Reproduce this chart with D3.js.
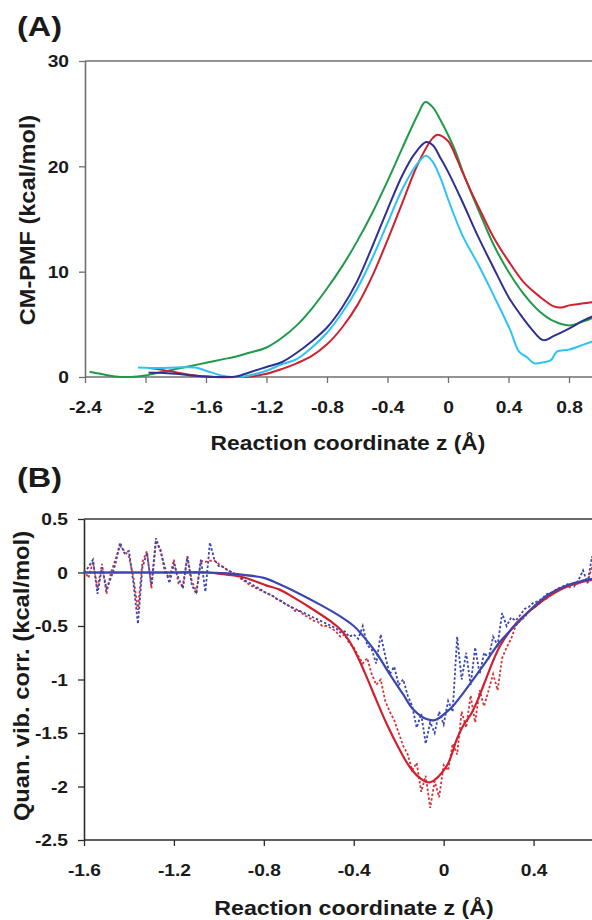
<!DOCTYPE html>
<html><head><meta charset="utf-8">
<script src="https://cdn.jsdelivr.net/npm/d3@7"></script>
<style>
body{margin:0;background:#fff;}
text{font-family:"Liberation Sans",Arial,sans-serif;font-weight:bold;fill:#1a1a1a;}
</style></head>
<body>
<script>
// ---------- Panel A data: CM-PMF (kcal/mol) vs reaction coordinate z (Å)
const zGreen = [-2.37,-2.3,-2.2,-2.1,-2.0,-1.9,-1.8,-1.7,-1.6,-1.5,-1.4,-1.3,-1.2,-1.1,-1.0,-0.9,-0.8,-0.7,-0.6,-0.5,-0.4,-0.3,-0.2,-0.15,-0.1,-0.05,0,0.05,0.1,0.15,0.2,0.3,0.4,0.5,0.6,0.7,0.8,0.9,1.0];
const pmfGreen = [0.5,0.3,0.05,0.0,0.15,0.45,0.75,1.05,1.35,1.65,1.95,2.35,2.8,3.7,4.9,6.5,8.4,10.5,12.9,15.6,18.6,21.8,24.9,26.1,25.6,24.4,23.0,21.4,19.4,17.6,15.9,12.6,10.0,7.9,6.3,5.3,4.9,5.3,5.9];
const zRed = [-1.98,-1.9,-1.8,-1.7,-1.6,-1.55,-1.4,-1.3,-1.2,-1.1,-1.0,-0.9,-0.8,-0.7,-0.6,-0.5,-0.4,-0.3,-0.2,-0.1,-0.07,0,0.05,0.1,0.15,0.2,0.3,0.4,0.5,0.6,0.7,0.75,0.8,0.9,1.0];
const pmfRed = [0.85,0.7,0.45,0.2,0.05,0.0,0.0,0.05,0.3,0.75,1.3,2.0,3.1,4.7,6.8,9.6,13.0,16.6,20.2,22.7,23.0,22.4,21.0,19.3,17.7,16.2,13.3,11.0,9.0,7.7,6.7,6.6,6.8,7.0,7.2];
const zNavy = [-1.98,-1.9,-1.8,-1.7,-1.6,-1.5,-1.4,-1.3,-1.2,-1.1,-1.0,-0.9,-0.8,-0.7,-0.6,-0.5,-0.4,-0.3,-0.22,-0.145,-0.1,-0.05,0,0.09,0.2,0.3,0.4,0.47,0.55,0.63,0.7,0.8,0.9,1.0];
const pmfNavy = [0.4,0.4,0.3,0.15,0.05,0.0,0.05,0.5,0.95,1.4,2.3,3.4,4.7,6.6,9.1,12.4,15.9,19.2,21.2,22.3,22.0,20.8,19.5,16.8,13.3,10.4,7.6,6.1,4.6,3.5,3.9,4.6,5.4,6.0];
const zCyan = [-2.05,-1.9,-1.8,-1.67,-1.6,-1.5,-1.43,-1.35,-1.2,-1.1,-1.0,-0.9,-0.8,-0.7,-0.6,-0.5,-0.4,-0.3,-0.2,-0.145,-0.1,-0.05,0,0.05,0.1,0.21,0.3,0.41,0.47,0.52,0.57,0.63,0.68,0.72,0.8,0.9,1.0];
const pmfCyan = [0.9,0.85,0.9,0.9,0.6,0.15,0.0,0.05,0.6,1.2,1.7,2.8,4.2,6.1,8.4,11.3,14.6,17.9,20.3,21.0,20.4,18.9,16.9,15.0,13.3,10.4,7.8,4.5,2.4,1.9,1.3,1.4,1.6,2.4,2.6,3.1,3.6];
const ticksAx = [-2.4,-2,-1.6,-1.2,-0.8,-0.4,0,0.4,0.8];
const ticksAy = [0,10,20,30];

// ---------- Panel B data: quantum vibrational correction (kcal/mol)
const zSmooth = [-1.6,-1.4,-1.2,-1.05,-1.0,-0.9,-0.8,-0.73,-0.64,-0.55,-0.46,-0.4,-0.36,-0.3,-0.24,-0.18,-0.135,-0.076,-0.04,-0.02,0.01,0.04,0.1,0.176,0.25,0.325,0.4,0.47,0.55,0.66,0.8];
const corrBlue = [0,0,0,0,-0.005,-0.02,-0.05,-0.11,-0.2,-0.3,-0.41,-0.5,-0.59,-0.75,-0.95,-1.14,-1.28,-1.37,-1.38,-1.36,-1.31,-1.25,-1.09,-0.87,-0.65,-0.48,-0.32,-0.2,-0.12,-0.06,-0.03];
const zSmoothR = [-1.6,-1.4,-1.2,-1.05,-1.0,-0.9,-0.79,-0.73,-0.67,-0.6,-0.5,-0.46,-0.42,-0.38,-0.34,-0.3,-0.25,-0.2,-0.15,-0.1,-0.06,0.013,0.06,0.09,0.12,0.15,0.18,0.25,0.325,0.4,0.47,0.55,0.66,0.8];
const corrRed = [0,0,0,0,-0.01,-0.04,-0.12,-0.16,-0.23,-0.32,-0.46,-0.53,-0.64,-0.8,-0.99,-1.19,-1.43,-1.64,-1.82,-1.93,-1.96,-1.81,-1.55,-1.42,-1.33,-1.2,-1.04,-0.69,-0.47,-0.33,-0.22,-0.13,-0.07,-0.03];
const zNoisy = [-1.60,-1.58,-1.56,-1.54,-1.52,-1.50,-1.48,-1.46,-1.44,-1.42,-1.40,-1.38,-1.36,-1.34,-1.32,-1.30,-1.28,-1.26,-1.24,-1.22,-1.20,-1.18,-1.16,-1.14,-1.12,-1.10,-1.08,-1.06,-1.04,-1.02,
 -1.00,-0.98,-0.96,-0.94,-0.92,-0.90,-0.88,-0.86,-0.84,-0.82,-0.80,-0.78,-0.76,-0.74,-0.72,-0.70,-0.68,-0.66,-0.64,-0.62,-0.60,-0.58,-0.56,-0.54,-0.52,
 -0.50,-0.48,-0.46,-0.44,-0.42,-0.40,-0.38,-0.36,-0.34,-0.32,-0.30,-0.28,-0.26,-0.24,-0.22,-0.20,-0.18,-0.16,-0.14,-0.12,-0.10,-0.08,-0.06,-0.04,-0.02,
 0.00,0.02,0.04,0.06,0.08,0.10,0.12,0.14,0.16,0.18,0.20,0.22,0.24,0.26,0.28,0.30,0.32,0.34,0.36,0.38,0.40,0.42,0.44,0.46,0.48,0.50,0.52,0.54,0.56,0.58,0.60,0.62,0.64,0.66,0.68,0.70,0.72];
const noisyBlue = [0.00,0.05,0.12,-0.20,0.05,-0.15,-0.05,0.08,0.28,0.18,0.20,-0.10,-0.48,0.05,0.18,-0.12,0.32,0.20,0.05,-0.10,0.08,-0.05,-0.15,0.15,-0.12,-0.20,0.12,-0.18,0.28,0.12,
 0.06,0.05,0.02,0.00,-0.02,-0.05,-0.08,-0.10,-0.13,-0.15,-0.18,-0.20,-0.22,-0.25,-0.27,-0.30,-0.32,-0.34,-0.36,-0.38,-0.40,-0.42,-0.44,-0.46,-0.48,
 -0.50,-0.52,-0.56,-0.55,-0.60,-0.58,-0.62,-0.50,-0.68,-0.72,-0.85,-0.58,-0.78,-0.95,-0.88,-1.05,-1.00,-1.15,-1.25,-1.45,-1.32,-1.60,-1.40,-1.50,-1.30,
 -1.42,-1.20,-1.30,-0.60,-1.00,-0.75,-1.05,-0.70,-0.95,-0.75,-0.80,-0.60,-0.68,-0.38,-0.50,-0.42,-0.45,-0.40,-0.34,-0.32,-0.28,-0.27,-0.24,-0.20,-0.19,-0.16,-0.14,-0.12,-0.10,-0.13,-0.07,0.02,-0.10,0.15,-0.02,0.10,0.05];
const noisyRed = [0.02,-0.05,0.10,-0.15,0.08,-0.20,0.00,0.12,0.25,0.20,0.15,-0.05,-0.35,0.10,0.20,-0.15,0.28,0.22,0.00,-0.05,0.12,-0.10,-0.12,0.15,-0.08,-0.18,0.11,0.10,0.11,0.11,
 0.08,0.05,0.02,0.00,-0.03,-0.06,-0.09,-0.12,-0.14,-0.16,-0.18,-0.20,-0.22,-0.25,-0.27,-0.30,-0.32,-0.36,-0.36,-0.40,-0.42,-0.45,-0.46,-0.50,-0.50,
 -0.52,-0.55,-0.60,-0.58,-0.66,-0.70,-0.78,-0.85,-0.80,-0.95,-1.05,-1.00,-1.20,-1.30,-1.38,-1.50,-1.62,-1.70,-1.85,-1.78,-2.05,-1.90,-2.20,-1.95,-2.10,
 -1.80,-1.85,-1.60,-1.70,-1.30,-1.45,-1.15,-1.40,-1.10,-1.25,-1.10,-0.95,-1.10,-0.80,-0.70,-0.62,-0.50,-0.45,-0.42,-0.36,-0.33,-0.30,-0.26,-0.24,-0.20,-0.18,-0.15,-0.13,-0.14,-0.10,-0.11,-0.07,-0.09,0.05,-0.06,0.02,-0.04];
const ticksBx = [-1.6,-1.2,-0.8,-0.4,0,0.4];
const ticksBy = [0.5,0,-0.5,-1,-1.5,-2,-2.5];

const W = 592, H = 920;
const SX = 1.2; // horizontal glyph stretch of the reference's labels
const svg = d3.select("body").append("svg").attr("width", W).attr("height", H);
const fmt = d => String(+d.toFixed(1));

function label(x, y, str, size, anchor, sx, rot) {
  svg.append("text")
    .attr("transform", `translate(${x},${y})` + (rot ? " rotate(-90)" : "") + ` scale(${sx},1)`)
    .attr("text-anchor", anchor)
    .style("font-size", size + "px")
    .text(str);
}

function panel(cfg) {
  const x = d3.scaleLinear().domain(cfg.xd).range(cfg.xr);
  const y = d3.scaleLinear().domain(cfg.yd).range(cfg.yr);
  const g = svg.append("g");
  g.append("line").attr("x1", cfg.xr[0]).attr("x2", W).attr("y1", cfg.yr[1]).attr("y2", cfg.yr[1])
    .attr("stroke", cfg.topColor).attr("stroke-width", cfg.topW);
  const ax = g.append("g").attr("transform", `translate(0,${cfg.yr[0]})`)
    .call(d3.axisBottom(x).tickValues(cfg.xt).tickFormat(fmt).tickSize(6).tickSizeOuter(0));
  const ay = g.append("g").attr("transform", `translate(${cfg.xr[0]},0)`)
    .call(d3.axisLeft(y).tickValues(cfg.yt).tickFormat(fmt).tickSize(6).tickSizeOuter(0));
  [ax, ay].forEach(a => {
    a.select(".domain").attr("stroke", cfg.axisColor).attr("stroke-width", 1.6);
    a.selectAll(".tick line").attr("stroke", cfg.axisColor).attr("stroke-width", 1.3);
    a.selectAll("text").attr("fill", "#1a1a1a").style("font-size", "16px")
      .style("font-family", '"Liberation Sans",Arial,sans-serif').style("font-weight", "bold");
  });
  ax.select(".domain").attr("d", `M${cfg.xr[0]},0H${W}`);
  ax.selectAll(".tick text").attr("y", 36).attr("dy", 0).attr("transform", `scale(${SX},1)`);
  ay.selectAll(".tick text").attr("x", -16 / SX).attr("dy", "0.36em").attr("transform", `scale(${SX},1)`);
  return {x, y, g};
}

// ---------- Panel A
const A = panel({xd: [-2.4, 1.2], xr: [85, 629.5], yd: [0, 30], yr: [377, 61],
  xt: ticksAx, yt: ticksAy, axisColor: "#6f6f6f", topColor: "#6f6f6f", topW: 1.6});
const lineA = d3.line().x(d => A.x(d[0])).y(d => A.y(d[1])).curve(d3.curveCatmullRom);
[[zGreen, pmfGreen, "#1f9a48"], [zRed, pmfRed, "#d0202e"], [zCyan, pmfCyan, "#2fc3f2"], [zNavy, pmfNavy, "#2e318f"]]
  .forEach(([zs, vs, c]) => {
    A.g.append("path").datum(zs.map((z, i) => [z, vs[i]])).attr("d", lineA)
      .attr("fill", "none").attr("stroke", c).attr("stroke-width", 2);
  });
label(17, 36, "(A)", 27, "start", 1.2, false);
label(348, 450, "Reaction coordinate z (Å)", 20, "middle", 1.14, false);
label(35, 220, "CM-PMF (kcal/mol)", 22, "middle", 1.07, true);

// ---------- Panel B
const B = panel({xd: [-1.6, 0.8], xr: [84, 623.5], yd: [-2.5, 0.5], yr: [840, 519],
  xt: ticksBx, yt: ticksBy, axisColor: "#2b2b2b", topColor: "#6a6a6a", topW: 2.2});
const lineB = d3.line().x(d => B.x(d[0])).y(d => B.y(d[1]));
const smoothB = d3.line().x(d => B.x(d[0])).y(d => B.y(d[1])).curve(d3.curveCatmullRom);
[[noisyRed, "#d8353a"], [noisyBlue, "#3a47b0"]].forEach(([vs, c]) => {
  B.g.append("path").datum(zNoisy.map((z, i) => [z, vs[i]])).attr("d", lineB)
    .attr("fill", "none").attr("stroke", c).attr("stroke-width", 1.8).attr("stroke-dasharray", "2.5,2");
});
B.g.append("path").datum(zSmoothR.map((z, i) => [z, corrRed[i]])).attr("d", smoothB)
  .attr("fill", "none").attr("stroke", "#d0202e").attr("stroke-width", 2.2);
B.g.append("path").datum(zSmooth.map((z, i) => [z, corrBlue[i]])).attr("d", smoothB)
  .attr("fill", "none").attr("stroke", "#3a47b0").attr("stroke-width", 2.2);
label(17, 487, "(B)", 27, "start", 1.2, false);
label(354, 915, "Reaction coordinate z (Å)", 20, "middle", 1.16, false);
label(29, 676, "Quan. vib. corr. (kcal/mol)", 22, "middle", 1.08, true);
</script>
</body></html>
